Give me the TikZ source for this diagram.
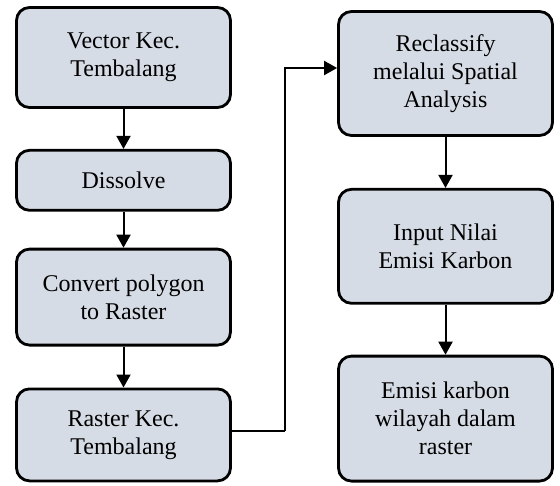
\documentclass[tikz,border=0pt]{standalone}
\usepackage{fontspec}
\setmainfont{Liberation Serif}
\usepackage{tikz}
\usetikzlibrary{positioning, arrows.meta}
\definecolor{StepFill}{RGB}{214,220,229}

\begin{document}
\begin{tikzpicture}[
  x=1pt, y=1pt,
  node distance=40pt,
  every node/.style={font=\fontsize{24}{28}\selectfont},
  stepbox/.style={draw, line width=2.8pt, rounded corners=13pt, fill=StepFill, align=center, minimum width=214pt, inner sep=2pt},
  arrow/.style={-{Triangle[length=13pt,width=14pt]}, line width=2pt},
  link/.style={line width=2pt}
]
\useasboundingbox (0,0) rectangle (560,-485);

% Left column
\node[stepbox, minimum height=100pt] (vector) at (123.5,-57.5) {Vector Kec.\\Tembalang};
\node[stepbox, minimum height=60pt, below=40pt of vector] (dissolve) {Dissolve};
\node[stepbox, minimum height=96pt, below=36pt of dissolve] (convert) {Convert polygon\\to Raster};
\node[stepbox, minimum height=92pt, below=41pt of convert] (raster) {Raster Kec.\\Tembalang};

% Right column
\node[stepbox, minimum height=124pt] (reclass) at (445.5,-73.5) {Reclassify\\melalui Spatial\\Analysis};
\node[stepbox, minimum height=114pt, below=51pt of reclass] (input) {Input Nilai\\Emisi Karbon};
\node[stepbox, minimum height=125pt, below=50pt of input] (emisi) {Emisi karbon\\wilayah dalam\\raster};

% Connections
\draw[arrow] (vector) -- (dissolve);
\draw[arrow] (dissolve) -- (convert);
\draw[arrow] (convert) -- (raster);
\draw[link] ([yshift=3.5pt]raster.east) -- ++(53,0) coordinate (turn);
\draw[arrow] (turn) |- ([yshift=5.5pt]reclass.west);
\draw[arrow] (reclass) -- (input);
\draw[arrow] (input) -- (emisi);

\end{tikzpicture}
\end{document}
